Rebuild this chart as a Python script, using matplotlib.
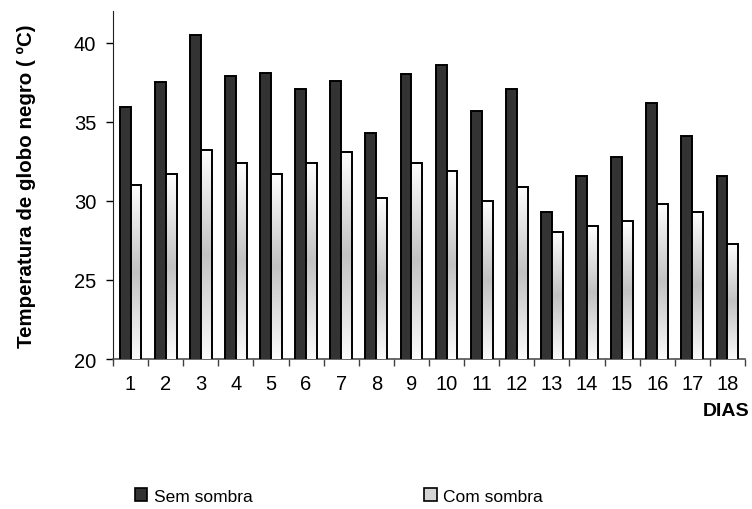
import numpy as np
import matplotlib.pyplot as plt
from matplotlib.colors import LinearSegmentedColormap
from matplotlib.patches import Patch

plt.rcParams['font.family'] = ['Liberation Sans', 'DejaVu Sans']

dias = [str(d) for d in range(1, 19)]
sem_sombra = [35.9, 37.5, 40.5, 37.9, 38.1, 37.1, 37.6, 34.3, 38.0,
              38.6, 35.7, 37.1, 29.3, 31.6, 32.8, 36.2, 34.1, 31.6]
com_sombra = [31.0, 31.7, 33.2, 32.4, 31.7, 32.4, 33.1, 30.2, 32.4,
              31.9, 30.0, 30.9, 28.0, 28.4, 28.7, 29.8, 29.3, 27.3]

fig = plt.figure(figsize=(7.52, 5.1), dpi=100)
ax = fig.add_axes([113 / 752, 1 - 360 / 510, 632 / 752, 348 / 510])

x = np.arange(len(dias))
w = 0.31
bars1 = ax.bar(x - w / 2, sem_sombra, w, color='#333333',
               edgecolor='black', linewidth=1.4, zorder=3)
bars2 = ax.bar(x + w / 2, com_sombra, w, color='none',
               edgecolor='black', linewidth=1.4, zorder=4)

# gradient fill for the "com sombra" bars: white -> gray -> white
cmap = LinearSegmentedColormap.from_list('g', ['#ffffff', '#c2c2c2', '#fbfbfb'])
grad = np.linspace(0, 1, 256).reshape(-1, 1)
for b in bars2:
    x0, y0 = b.get_x(), 20
    x1, y1 = x0 + b.get_width(), b.get_height()
    im = ax.imshow(grad, cmap=cmap, extent=[x0, x1, y0, y1], origin='upper',
                   aspect='auto', zorder=3.5, interpolation='bilinear')
    im.set_clip_path(b)

ax.set_ylim(20, 42)
ax.set_xlim(-0.5, len(dias) - 0.5)
ax.set_yticks([20, 25, 30, 35, 40])
ax.set_xticks(x)
ax.set_xticklabels(dias)
ax.set_xticks(np.arange(-0.5, len(dias)), minor=True)
ax.tick_params(axis='x', which='major', length=0, pad=11, labelsize=14.5)
ax.tick_params(axis='x', which='minor', length=5, width=1, color='#404040')
ax.tick_params(axis='y', length=5, width=1, labelsize=14.5, pad=7)

for s in ['top', 'right']:
    ax.spines[s].set_visible(False)
ax.spines['left'].set_color('#202020')
ax.spines['bottom'].set_color('#505050')
ax.spines['bottom'].set_linewidth(1.2)

ax.set_ylabel('Temperatura de globo negro ( ºC)', fontsize=14.8,
              fontweight='bold', labelpad=27)
fig.text(749 / 752, 1 - 412 / 510, 'DIAS', ha='right', va='center',
         fontsize=14, fontweight='bold')

handles = [Patch(facecolor='#333333', edgecolor='black', linewidth=1.2),
           Patch(facecolor='#d4d4d4', edgecolor='black', linewidth=1.2)]
fig.legend(handles, ['Sem sombra', 'Com sombra'], ncol=2, frameon=False,
           loc='center left', bbox_to_anchor=(119 / 752, 1 - 497 / 510),
           fontsize=12.5, handlelength=0.7, handleheight=0.7,
           handletextpad=0.4, columnspacing=9.9)

fig.savefig('out.png', dpi=100)
